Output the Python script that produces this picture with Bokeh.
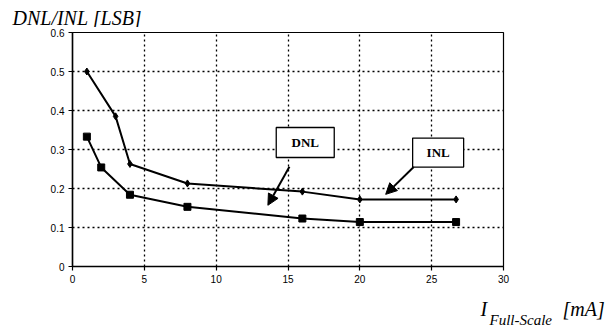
from bokeh.plotting import figure
from bokeh.layouts import column, row
from bokeh.models import Range1d, FixedTicker, Label, Arrow, NormalHead, ColumnDataSource, Spacer
from bokeh.core.properties import value
from bokeh.embed import file_html
from bokeh.resources import INLINE

# data
i_fs_inl = [1, 3, 4, 8, 16, 20, 26.7]
inl = [0.50, 0.385, 0.263, 0.213, 0.192, 0.172, 0.172]
i_fs_dnl = [1, 2, 4, 8, 16, 20, 26.7]
dnl = [0.333, 0.254, 0.184, 0.153, 0.123, 0.114, 0.114]
x_ticks = [0, 5, 10, 15, 20, 25, 30]
y_ticks = [0, 0.1, 0.2, 0.3, 0.4, 0.5, 0.6]
y_tick_labels = {0: "0", 0.1: "0.1", 0.2: "0.2", 0.3: "0.3", 0.4: "0.4", 0.5: "0.5", 0.6: "0.6"}
y_title = "DNL/INL [LSB]"
x_title_main = "I"
x_title_sub = "Full-Scale"
x_title_unit = "[mA]"

# callouts: label text, box centre, arrow start, arrow end
callout_names = ["DNL", "INL"]
callout_x = [16.2, 25.45]
callout_y = [0.318, 0.292]
arrow_x0 = [15.1, 23.75]
arrow_y0 = [0.256, 0.255]
arrow_x1 = [13.6, 21.8]
arrow_y1 = [0.157, 0.185]

SERIF = "Times New Roman"
W = 613
H_TOP = 27
H_BOTTOM = 33
TOP_PAD = 4
BOTTOM_PAD = 478


def text_strip(width, height):
    f = figure(width=width, height=height, output_backend="svg", toolbar_location=None,
               x_range=Range1d(0, width), y_range=Range1d(height, 0),
               x_axis_type=None, y_axis_type=None,
               min_border=0, min_border_left=0, min_border_right=0,
               min_border_top=0, min_border_bottom=0)
    f.outline_line_color = None
    f.background_fill_color = "white"
    f.border_fill_color = "white"
    f.xgrid.visible = False
    f.ygrid.visible = False
    return f


def strip_label(f, x, y, text, size):
    f.add_layout(Label(x=x, y=y, text=text, text_font=SERIF,
                       text_font_style="italic", text_font_size=size,
                       text_color="black", text_baseline="alphabetic"))


# top strip: y-axis title
t = text_strip(W - TOP_PAD, H_TOP)
strip_label(t, 8, 17, y_title, "20px")

# main chart
p = figure(width=W, height=331 - H_TOP - H_BOTTOM, output_backend="svg", toolbar_location=None,
           x_range=Range1d(0, 30), y_range=Range1d(0, 0.6),
           min_border_left=72, min_border_right=110, min_border_top=5, min_border_bottom=32)
p.background_fill_color = "white"
p.border_fill_color = "white"
p.outline_line_color = "black"
p.outline_line_width = 1.2

for ax, ticks in ((p.xaxis[0], x_ticks), (p.yaxis[0], y_ticks)):
    ax.ticker = FixedTicker(ticks=ticks)
    ax.axis_line_color = "black"
    ax.axis_line_width = 1.5
    ax.major_tick_line_color = "black"
    ax.major_tick_line_width = 1.2
    ax.major_tick_out = 4
    ax.major_tick_in = 0
    ax.minor_tick_line_color = None
    ax.major_label_text_font = "Arial"
    ax.major_label_text_font_size = "10px"
    ax.major_label_text_color = "black"
    ax.major_label_standoff = 4
p.yaxis[0].major_label_overrides = y_tick_labels

for g in (p.xgrid[0], p.ygrid[0]):
    g.grid_line_color = "black"
    g.grid_line_dash = "2 3"
    g.grid_line_width = 1.3

p.line(i_fs_inl, inl, line_color="black", line_width=2)
p.scatter(i_fs_inl, inl, marker="diamond", size=7, color="black")
p.line(i_fs_dnl, dnl, line_color="black", line_width=2)
p.scatter(i_fs_dnl, dnl, marker="square", size=7, color="black")

for i in range(2):
    p.add_layout(Arrow(end=NormalHead(size=11, fill_color="black", line_color="black"),
                       x_start=arrow_x0[i], y_start=arrow_y0[i],
                       x_end=arrow_x1[i], y_end=arrow_y1[i],
                       line_color="black", line_width=2))

src = ColumnDataSource(dict(x=callout_x, y=callout_y, t=callout_names,
                            w=[58, 51], h=[30, 29]))
p.rect("x", "y", width="w", height="h", width_units="screen", height_units="screen",
       source=src, fill_color="white", line_color="black", line_width=1.3)
p.text("x", "y", text="t", source=src, text_align="center", text_baseline="middle",
       text_font=value(SERIF), text_font_style="bold", text_font_size="13px",
       text_color="black")

# bottom strip: x-axis title (I with subscript)
b = text_strip(W - BOTTOM_PAD, H_BOTTOM)
strip_label(b, 2, 10, x_title_main, "20px")
strip_label(b, 11, 21, x_title_sub, "15px")
strip_label(b, 84, 10, x_title_unit, "20px")

layout = column(row(Spacer(width=TOP_PAD, height=H_TOP), t, spacing=0),
                p,
                row(Spacer(width=BOTTOM_PAD, height=H_BOTTOM), b, spacing=0),
                spacing=0)
open("out.html", "w").write(file_html(layout, INLINE))
